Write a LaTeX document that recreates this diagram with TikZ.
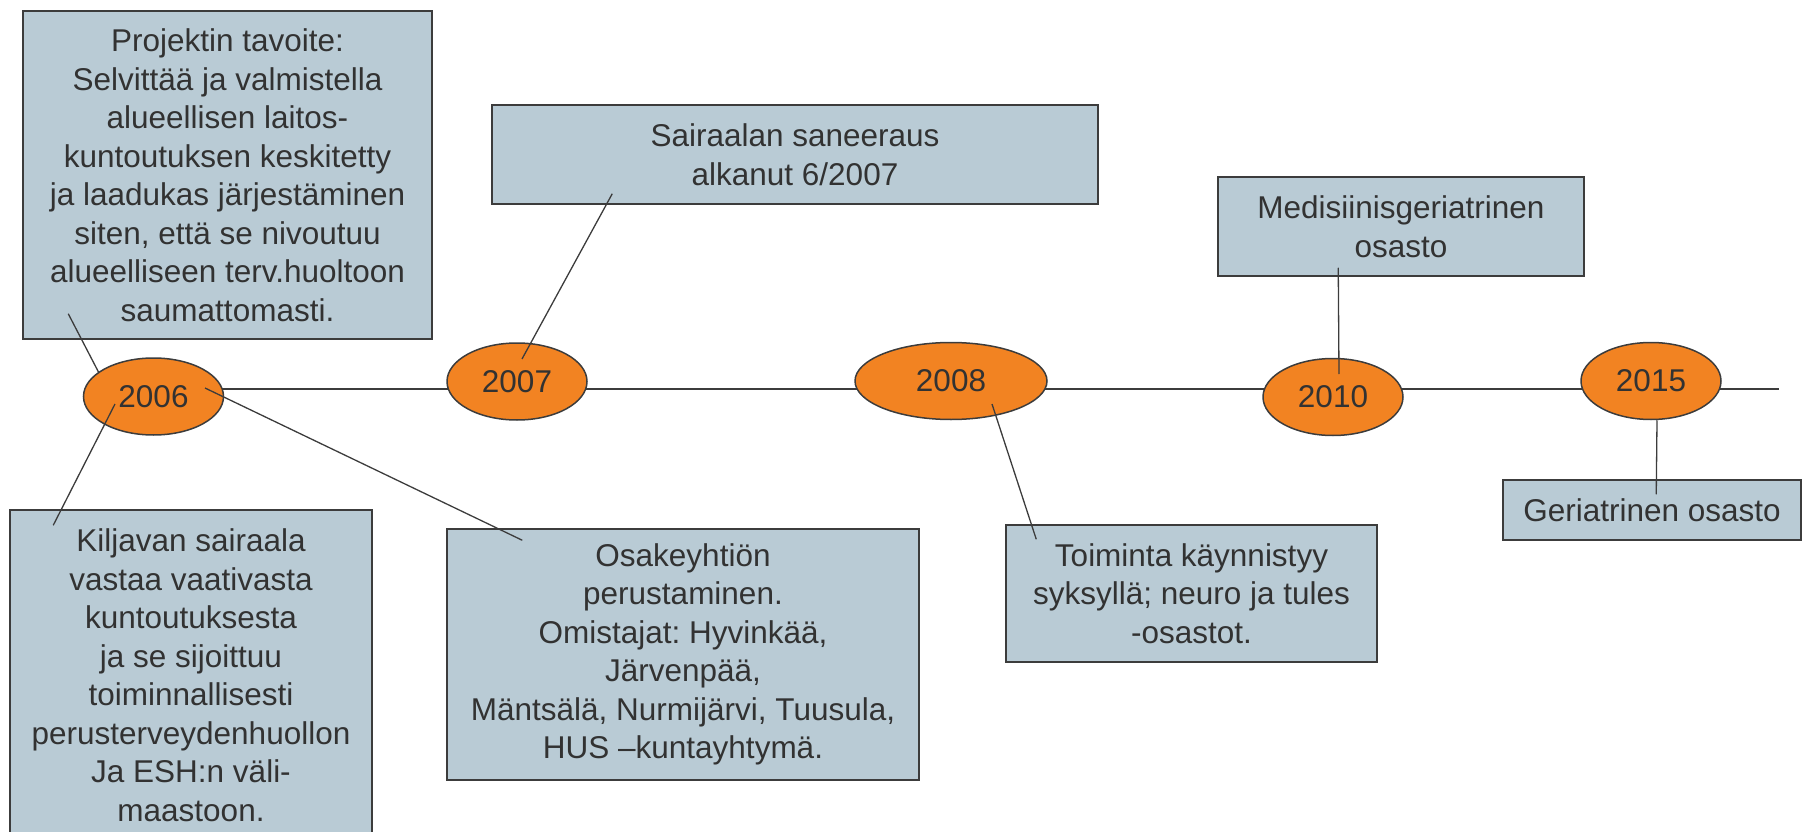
\documentclass[tikz,border=0pt]{standalone}
\usepackage{fontspec}
\setmainfont{Liberation Sans}
\usetikzlibrary{shapes.geometric}
\definecolor{boxblue}{RGB}{185,203,213}
\definecolor{yearorange}{RGB}{242,131,34}
\definecolor{darkline}{RGB}{60,60,60}
\definecolor{textgrey}{RGB}{50,50,50}
\frenchspacing

\begin{document}
\begin{tikzpicture}[x=1pt,y=-1pt,
  box/.style={draw=darkline,line width=1.5pt,fill=boxblue,text=textgrey,inner sep=0pt,align=center,font=\fontsize{31.5}{38.5}\selectfont},
  year/.style={ellipse,draw=darkline,line width=1.5pt,fill=yearorange,text=textgrey,inner sep=0pt,minimum height=77pt,font=\fontsize{31.5}{38.5}\selectfont},
  link/.style={draw=darkline,line width=1.3pt}]
\clip (0,0) rectangle (1805,832);
\coordinate (tlstart) at (154,389);
\coordinate (tlend) at (1779,389);
\draw[link] (tlstart) -- (tlend);
\foreach \yr/\px/\py/\w in {2006/153.5/396.5/140pt, 2007/517/381.5/140pt, 2008/951/381/192pt, 2010/1333/397/140pt, 2015/1651/381/140pt}
  \node[year,minimum width=\w] (y\yr) at (\px,\py) {\yr};
\node[box,minimum width=409pt,minimum height=328pt] (goal) at (227.5,175) {Projektin tavoite:\\Selvittää ja valmistella\\alueellisen laitos-\\kuntoutuksen keskitetty\\ja laadukas järjestäminen\\siten, että se nivoutuu\\alueelliseen terv.huoltoon\\saumattomasti.};
\node[box,minimum width=606pt,minimum height=99pt] (reno) at (795,154.5) {Sairaalan saneeraus\\alkanut 6/2007};
\node[box,minimum width=366pt,minimum height=99pt] (medger) at (1401,226.5) {Medisiinisgeriatrinen\\osasto};
\node[box,minimum width=362pt,minimum height=330pt] (kiljava) at (191,675) {Kiljavan sairaala\\vastaa vaativasta\\kuntoutuksesta\\ja se sijoittuu\\toiminnallisesti\\perusterveydenhuollon\\Ja ESH:n väli-\\maastoon.};
\node[box,minimum width=472pt,minimum height=251pt] (oy) at (683,654.5) {Osakeyhtiön\\perustaminen.\\Omistajat: Hyvinkää,\\Järvenpää,\\Mäntsälä, Nurmijärvi, Tuusula,\\HUS –kuntayhtymä.};
\node[box,minimum width=371pt,minimum height=137pt] (start) at (1191.5,593.5) {Toiminta käynnistyy\\syksyllä; neuro ja tules\\-osastot.};
\node[box,minimum width=298pt,minimum height=60pt] (ger) at (1652,510) {Geriatrinen osasto};
\draw[link] ([shift={(46,-26)}]goal.south west) -- ([shift={(-54.5,-23.5)}]y2006.center);
\draw[link] ([shift={(-38.5,7.5)}]y2006.center) -- ([shift={(44,16)}]kiljava.north west);
\draw[link] ([shift={(51.5,-8.5)}]y2006.center) -- ([shift={(76,12)}]oy.north west);
\draw[link] ([shift={(5,-22.5)}]y2007.center) -- ([shift={(121,-11)}]reno.south west);
\draw[link] ([shift={(41,23)}]y2008.center) -- ([shift={(31,15)}]start.north west);
\draw[link] ([shift={(6,-23)}]y2010.center) -- ([shift={(121,-9)}]medger.south west);
\draw[link] ([shift={(6,0)}]y2015.south) -- ([shift={(154,15)}]ger.north west);
\end{tikzpicture}
\end{document}
